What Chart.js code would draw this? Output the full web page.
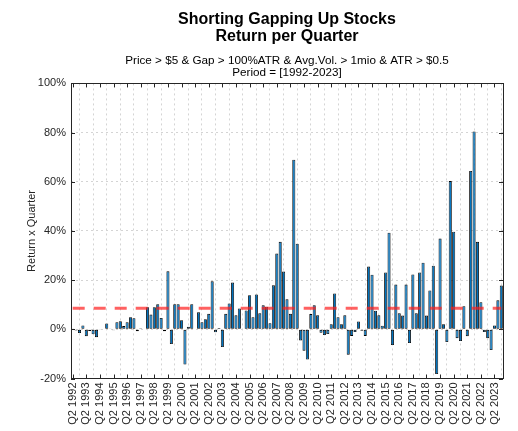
<!DOCTYPE html>
<html>
<head>
<meta charset="utf-8">
<script src="https://cdn.jsdelivr.net/npm/chart.js@4"></script>
<style>
    body { margin: 0; background: #fff; }
    #wrap { width: 518px; height: 431px; }
</style>
</head>
<body>
<div id="wrap"><canvas id="returnChart" width="518" height="431"></canvas></div>
<script>
// 数据：年份范围（1992年从Q2开始）
const firstYear = 1992;
const lastYear = 2023;

// 每季度收益率（%），按年分行：1992年只有Q2-Q4
const returns = [
    0.3, -0.5, -1.5,            // 1992
    1.6, -2.8, -0.7, -2.0,      // 1993
    -3.2, -0.3, -0.2, 2.4,      // 1994
    0.3, -0.4, 2.9, 3.3,        // 1995
    1.3, 2.9, 4.9, 4.5,         // 1996
    -0.8, 0.4, 0.0, 9.0,        // 1997
    6.0, 9.0, 10.2, 4.6,        // 1998
    -0.8, 23.6, -6.0, 10.2,     // 1999
    10.2, 3.7, -14.3, 1.0,      // 2000
    10.2, 0.0, 6.9, 2.9,        // 2001
    4.1, 6.3, 19.5, -1.2,       // 2002
    0.5, -7.2, 6.3, 10.5,       // 2003
    19.0, 5.7, 8.5, 0.0,        // 2004
    7.7, 13.9, 4.9, 14.2,       // 2005
    6.5, 9.8, 9.2, 2.5,         // 2006
    17.9, 30.8, 35.6, 23.5,     // 2007
    12.2, 6.3, 69.0, 34.8,      // 2008
    -4.5, -8.7, -12.3, 6.2,     // 2009
    9.8, 5.7, -1.4, -2.3,       // 2010
    -1.9, 2.1, 14.6, 4.9,       // 2011
    2.1, 5.7, -10.3, -2.7,      // 2012
    -1.1, 3.2, -0.6, -2.7,      // 2013
    25.5, 22.2, 7.6, 5.7,       // 2014
    1.5, 23.1, 39.3, -6.4,      // 2015
    18.2, 6.5, 5.6, 18.2,       // 2016
    -5.6, 22.3, 6.5, 23.1,      // 2017
    27.1, 5.6, 15.8, 25.9,      // 2018
    -18.2, 36.9, 2.1, -5.2,     // 2019
    60.3, 39.7, -3.6, -4.8,     // 2020
    9.4, -2.8, 64.4, 80.5,      // 2021
    35.6, 11.0, -1.1, -3.6,     // 2022
    -8.4, 1.6, 11.8, 17.8       // 2023
];

// 平均收益率（红色虚线）
const meanReturn = 8.6;

// Y轴刻度
const yMin = -20;
const yMax = 100;
const yStep = 20;

// 季度标签
const quarters = [];
for (let y = firstYear; y <= lastYear; y++) {
    for (let q = 1; q <= 4; q++) {
        if (y === firstYear && q === 1) continue;
        quarters.push('Q' + q + ' ' + y);
    }
}

const FONT = "'Liberation Sans', Arial, sans-serif";
const TEXT_COLOR = '#262626';
const GRID_COLOR = '#d4d4d4';

// 边框和向内的刻度线
const boxPlugin = {
    id: 'boxPlugin',
    afterDraw(chart) {
        const ctx = chart.ctx;
        const area = chart.chartArea;
        const xScale = chart.scales.x;
        const yScale = chart.scales.y;
        const tick = 4;
        ctx.save();
        ctx.strokeStyle = TEXT_COLOR;
        ctx.lineWidth = 1;
        ctx.beginPath();
        xScale.ticks.forEach(function(t, i) {
            if (t.label == null) return;
            const x = Math.round(xScale.getPixelForTick(i)) + 0.5;
            ctx.moveTo(x, area.bottom);
            ctx.lineTo(x, area.bottom - tick);
            ctx.moveTo(x, area.top);
            ctx.lineTo(x, area.top + tick);
        });
        yScale.ticks.forEach(function(t) {
            const y = Math.round(yScale.getPixelForValue(t.value)) + 0.5;
            ctx.moveTo(area.left, y);
            ctx.lineTo(area.left + tick, y);
            ctx.moveTo(area.right, y);
            ctx.lineTo(area.right - tick, y);
        });
        ctx.stroke();
        ctx.strokeRect(Math.round(area.left) + 0.5, Math.round(area.top) + 0.5,
            Math.round(area.right - area.left), Math.round(area.bottom - area.top));
        ctx.restore();
    }
};

const ctx = document.getElementById('returnChart').getContext('2d');
new Chart(ctx, {
    data: {
        labels: quarters,
        datasets: [
            {
                type: 'line',
                label: 'Mean',
                data: quarters.map(function() { return meanReturn; }),
                borderColor: 'rgba(255, 30, 30, 0.7)',
                borderWidth: 3,
                borderDash: [12, 9],
                pointRadius: 0,
                fill: false,
                order: 0
            },
            {
                type: 'bar',
                label: 'Return',
                data: returns,
                backgroundColor: '#0072bd',
                borderColor: '#000000',
                borderWidth: 0.85,
                borderSkipped: false,
                barPercentage: 0.9,
                categoryPercentage: 1.0,
                order: 1
            }
        ]
    },
    options: {
        responsive: false,
        animation: false,
        layout: {
            padding: { left: 0, right: 15, top: 0, bottom: 0 }
        },
        plugins: {
            legend: { display: false },
            tooltip: { enabled: false },
            title: {
                display: true,
                fullSize: false,
                text: ['Shorting Gapping Up Stocks', 'Return per Quarter'],
                color: '#000',
                font: { family: FONT, size: 16, weight: 'bold', lineHeight: 1.08 },
                padding: { top: 11, bottom: 3 }
            },
            subtitle: {
                display: true,
                fullSize: false,
                text: ['Price > $5 & Gap > 100%ATR & Avg.Vol. > 1mio & ATR > $0.5', 'Period = [1992-2023]'],
                color: '#000',
                font: { family: FONT, size: 11.7, lineHeight: 1.02 },
                padding: { top: 6, bottom: 5 }
            }
        },
        scales: {
            x: {
                offset: true,
                afterFit: function(scale) { scale.height = 52.5; },
                grid: {
                    color: GRID_COLOR,
                    drawTicks: false,
                    lineWidth: 1
                },
                border: { display: false, dash: [2, 3] },
                ticks: {
                    autoSkip: false,
                    minRotation: 90,
                    maxRotation: 90,
                    padding: 4,
                    color: TEXT_COLOR,
                    font: { family: FONT, size: 11 },
                    callback: function(value, index) {
                        return index % 4 === 0 ? this.getLabelForValue(value) : null;
                    }
                }
            },
            y: {
                min: yMin,
                max: yMax,
                afterFit: function(scale) { scale.width = 71; },
                grid: {
                    color: GRID_COLOR,
                    drawTicks: false
                },
                border: { display: false, dash: [2, 3] },
                ticks: {
                    stepSize: yStep,
                    padding: 5,
                    color: TEXT_COLOR,
                    font: { family: FONT, size: 11 },
                    callback: function(value) { return value + '%'; }
                },
                title: {
                    display: true,
                    text: 'Return x Quarter',
                    color: TEXT_COLOR,
                    font: { family: FONT, size: 11 },
                    padding: { top: 25, bottom: 0 }
                }
            }
        }
    },
    plugins: [boxPlugin]
});
</script>
</body>
</html>
